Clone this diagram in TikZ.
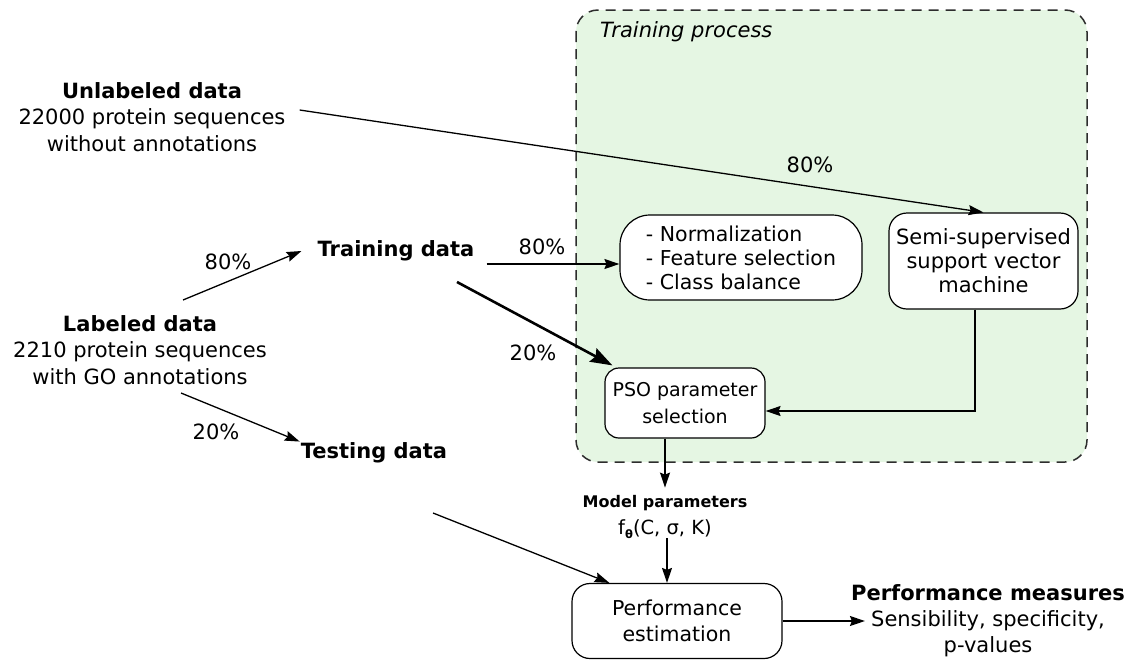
\documentclass[tikz,border=0pt]{standalone}
\usepackage{fontspec}
\setmainfont{DejaVu Sans}
\usetikzlibrary{arrows.meta}

\definecolor{procgreen}{RGB}{229,246,227}
\definecolor{dashgray}{RGB}{45,45,45}

\tikzset{
  datatitle/.style={align=center,inner sep=0,font=\fontsize{21}{26.5}\selectfont},
  pct/.style={inner sep=0,font=\fontsize{21}{24}\selectfont},
  stepbox/.style={draw,fill=white,line width=1.2pt,align=center,inner sep=0,font=\fontsize{20.5}{24}\selectfont},
  arr/.style={-{Stealth[length=15pt,width=10pt,inset=2pt]},line width=1.3pt},
}

\begin{document}
\begin{tikzpicture}[x=1pt,y=-1pt]

\useasboundingbox (0,0) rectangle (1126,659);

\draw [dashgray,fill=procgreen,line width=1.5pt,dash pattern=on 10pt off 7pt,rounded corners=22] (576,10) rectangle (1087,462);
\node [anchor=west,inner sep=0,font=\itshape\fontsize{21}{24}\selectfont] (proc) at (600,32) {Training process};

\node [datatitle] (unl) at (152,117) {\textbf{Unlabeled data}\\22000 protein sequences\\without annotations};
\node [datatitle] (lab) at (140,350) {\textbf{Labeled data}\\2210 protein sequences\\with GO annotations};
\node [datatitle,font=\bfseries\fontsize{21}{26}\selectfont] (trn) at (396,251) {Training data};
\node [datatitle,font=\bfseries\fontsize{21}{26}\selectfont] (tst) at (374,453) {Testing data};

\node [stepbox,rounded corners=30,minimum width=242,minimum height=85,align=left] (norm) at (741,257.5) {- Normalization\\- Feature selection\\- Class balance};
\node [stepbox,rounded corners=18,minimum width=189,minimum height=96,font=\fontsize{21}{24}\selectfont] (svm) at (983.5,261) {Semi-supervised\\support vector\\machine};
\node [stepbox,rounded corners=14,minimum width=160,minimum height=70,font=\fontsize{19}{27}\selectfont] (pso) at (685,403) {PSO parameter\\selection};
\node [stepbox,rounded corners=18,minimum width=210,minimum height=75,font=\fontsize{20.5}{26}\selectfont] (perf) at (677,621) {Performance\\estimation};

\node [align=center,inner sep=0] (par) at (665,517) {{\bfseries\fontsize{16}{18}\selectfont Model parameters}\\[7pt]{\fontsize{19.5}{22}\selectfont f\raisebox{-4pt}{\fontsize{11.5}{12}\selectfont\bfseries θ}(C, σ, K)}};
\node [align=center,inner sep=0,font=\fontsize{21}{26}\selectfont] (meas) at (988,621) {\textbf{Performance measures}\\Sensibility, specificity,\\p-values};

\coordinate (labup) at (183,300);
\coordinate (labdown) at (181,393);
\coordinate (trnout) at (457,282);
\coordinate (tstout) at (433,513);

\draw [arr] ([xshift=14pt,yshift=7pt]unl.east) -- (svm.north);
\draw [arr] (labup) -- ([xshift=-16pt]trn.west);
\draw [arr] (labdown) -- ([xshift=-1pt,yshift=1pt]tst.north west);
\draw [arr] ([xshift=12pt,yshift=-13pt]trn.east) -- ([yshift=-6.5pt]norm.west);
\draw [arr,line width=2.6pt,-{Stealth[length=22pt,width=15pt,inset=3pt]}] (trnout) -- ([xshift=8pt,yshift=2pt]pso.north west);
\draw [arr] ([xshift=-8.5pt]svm.south) |- ([yshift=-8pt]pso.east);
\draw [arr] ([xshift=-20pt]pso.south) -- ([yshift=8pt]par.north);
\draw [arr] ([xshift=2pt]par.south) -- ([xshift=-10pt]perf.north);
\draw [arr] (tstout) -- ([xshift=38pt]perf.north west);
\draw [arr] (perf.east) -- ([xshift=14pt]meas.west);

\node [pct] (p1) at (810,165) {80\%};
\node [pct] (p2) at (228,262) {80\%};
\node [pct] (p3) at (216,432) {20\%};
\node [pct] (p4) at (542,247) {80\%};
\node [pct] (p5) at (533,353) {20\%};

\end{tikzpicture}
\end{document}
